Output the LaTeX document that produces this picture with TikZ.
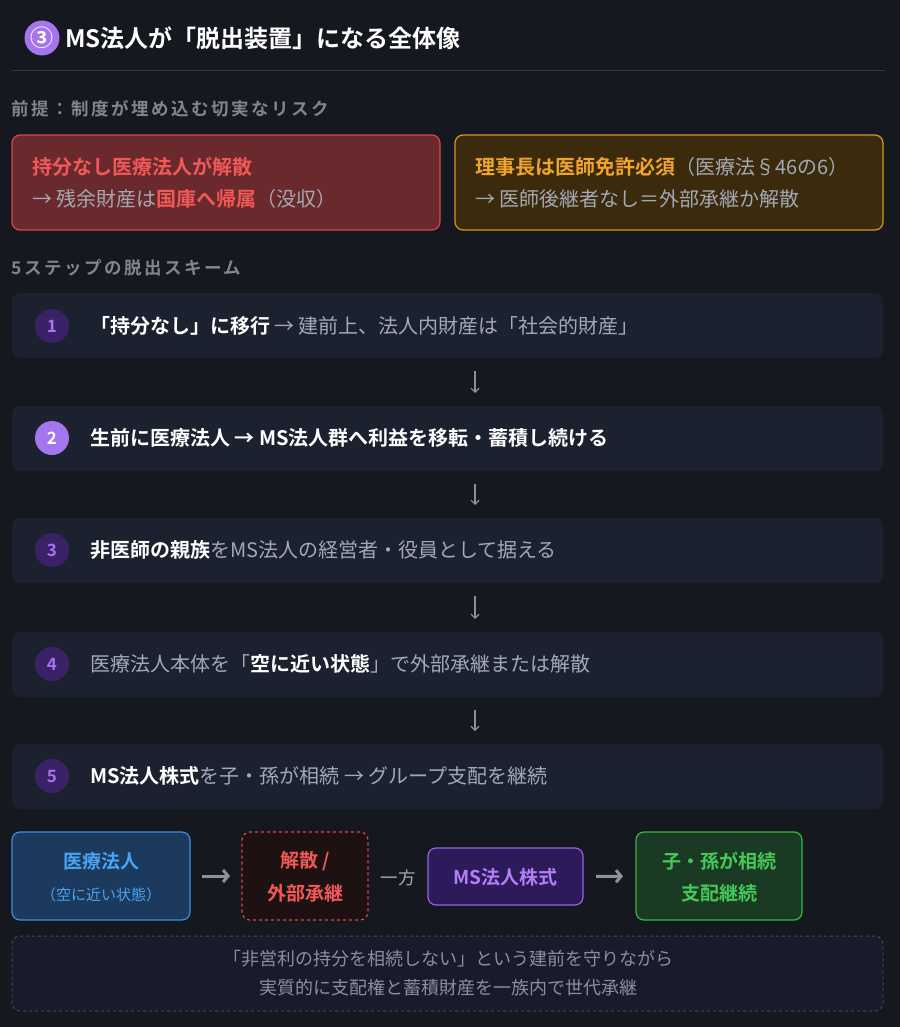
\documentclass[tikz,border=0pt]{standalone}
\usepackage{fontspec}
\setmainfont{Noto Sans CJK JP}[BoldFont={* Bold}]
\usetikzlibrary{arrows.meta}
\definecolor{bg}{HTML}{15181F}
\definecolor{sepline}{HTML}{343944}
\definecolor{hdrgray}{HTML}{80868F}
\definecolor{txtgray}{HTML}{A3A9B4}
\definecolor{redfill}{HTML}{6A2A2D}
\definecolor{redbord}{HTML}{D9474A}
\definecolor{redtxt}{HTML}{F25858}
\definecolor{goldfill}{HTML}{3B2A0C}
\definecolor{goldbord}{HTML}{D09A1E}
\definecolor{goldtxt}{HTML}{F0A528}
\definecolor{stepfill}{HTML}{1C2130}
\definecolor{lpurple}{HTML}{A575EE}
\definecolor{dpurple}{HTML}{3A2168}
\definecolor{numpurple}{HTML}{A872F2}
\definecolor{bluefill}{HTML}{1B3A5E}
\definecolor{bluebord}{HTML}{3D8FE0}
\definecolor{bluetxt}{HTML}{4BA3F2}
\definecolor{dredfill}{HTML}{1E1111}
\definecolor{pbfill}{HTML}{2C1A5A}
\definecolor{pbbord}{HTML}{9B60E6}
\definecolor{pbtxt}{HTML}{B27EF5}
\definecolor{gfill}{HTML}{1A3A24}
\definecolor{gbord}{HTML}{32B845}
\definecolor{gtxt}{HTML}{45C85A}
\definecolor{notefill}{HTML}{1A1A2D}
\definecolor{notebord}{HTML}{444955}
\definecolor{arrgray}{HTML}{8C929C}
\newcommand\myfs[1]{\fontsize{#1pt}{#1pt}\selectfont}
\newcommand\wb[1]{\textcolor{white}{\bfseries #1}}
\begin{document}
\begin{tikzpicture}[x=1pt,y=-1pt,
  every node/.style={inner sep=0pt,outer sep=0pt},
  riskbox/.style={rounded corners=8pt,line width=1.2pt,anchor=north west,minimum width=428pt,minimum height=95pt},
  stepbox/.style={rounded corners=8pt,fill=stepfill,anchor=north west,minimum width=871pt,minimum height=65pt},
  numdark/.style={circle,fill=dpurple,text=numpurple,minimum size=34pt,font=\myfs{17}\bfseries},
  numlight/.style={circle,fill=lpurple,text=white,minimum size=34pt,font=\myfs{17}\bfseries},
  steptxt/.style={anchor=west,text=txtgray,font=\myfs{20}},
  hdr/.style={anchor=west,text=hdrgray,font=\myfs{17.5}\bfseries\addfontfeatures{LetterSpace=14}},
  downarr/.style={draw=arrgray,line width=1.1pt,-{Straight Barb[length=4pt,width=8pt]},shorten <=13pt,shorten >=13pt},
  flowbox/.style={rounded corners=8pt,line width=1.2pt},
  flowarr/.style={draw=arrgray,line width=3pt,-{Straight Barb[length=5pt,width=12pt]},shorten <=12pt,shorten >=12pt}]
\useasboundingbox (0,0) rectangle (900,1027);
\fill[bg] (0,0) rectangle (900,1027);
% title
\node[circle,fill=lpurple,text=white,minimum size=35pt,font=\myfs{23}\bfseries] (tc) at (42,38) {③};
\node[anchor=west,text=white,font=\myfs{24}\bfseries] (title) at (65,38) {MS法人が「脱出装置」になる全体像};
\draw[sepline,line width=1pt] (12,71) -- (885,71);
% premise
\node[hdr] (h1) at (12,109) {前提：制度が埋め込む切実なリスク};
\node[riskbox,fill=redfill,draw=redbord] (rk1) at (12,135) {};
\node[anchor=west,text=redtxt,font=\myfs{20}\bfseries] (rk1a) at (32,167) {持分なし医療法人が解散};
\node[anchor=west,text=txtgray,font=\myfs{20}] (rk1b) at (32,199) {→ 残余財産は\textcolor{redtxt}{\bfseries 国庫へ帰属}（没収）};
\node[riskbox,fill=goldfill,draw=goldbord] (rk2) at (455,135) {};
\node[anchor=west,text=txtgray,font=\myfs{20}] (rk2a) at (475,167) {\textcolor{goldtxt}{\bfseries 理事長は医師免許必須}（医療法§46の6）};
\node[anchor=west,text=txtgray,font=\myfs{20}] (rk2b) at (475,199) {→ 医師後継者なし＝外部承継か解散};
% steps
\node[hdr] (h2) at (12,268) {5ステップの脱出スキーム};
\node[stepbox] (s1) at (12,293) {};
\node[stepbox] (s2) at (12,406) {};
\node[stepbox] (s3) at (12,518) {};
\node[stepbox] (s4) at (12,632) {};
\node[stepbox] (s5) at (12,744) {};
\node[numdark] (n1) at (52,326) {1};
\node[numlight] (n2) at (52,438) {2};
\node[numdark] (n3) at (52,550) {3};
\node[numdark] (n4) at (52,664) {4};
\node[numdark] (n5) at (52,776) {5};
\node[steptxt] (t1) at (90,326) {\wb{「持分なし」に移行} → 建前上、法人内財産は「社会的財産」};
\node[steptxt] (t2) at (90,438) {\wb{生前に医療法人 → MS法人群へ利益を移転・蓄積し続ける}};
\node[steptxt] (t3) at (90,550) {\wb{非医師の親族}をMS法人の経営者・役員として据える};
\node[steptxt] (t4) at (90,664) {医療法人本体を「\wb{空に近い状態}」で外部承継または解散};
\node[steptxt] (t5) at (90,776) {\wb{MS法人株式}を子・孫が相続 → グループ支配を継続};
\coordinate (ax) at (475,0);
\draw[downarr] (s1.south -| ax) -- (s2.north -| ax);
\draw[downarr] (s2.south -| ax) -- (s3.north -| ax);
\draw[downarr] (s3.south -| ax) -- (s4.north -| ax);
\draw[downarr] (s4.south -| ax) -- (s5.north -| ax);
% flow
\node[flowbox,fill=bluefill,draw=bluebord,minimum width=178pt,minimum height=88pt] (f1) at (101,876) {};
\node[text=bluetxt,font=\myfs{19}\bfseries] (f1a) at (101,861) {医療法人};
\node[text=bluetxt,font=\myfs{15}] (f1b) at (101,895) {（空に近い状態）};
\node[flowbox,fill=dredfill,draw=redbord,dashed,minimum width=126pt,minimum height=88pt] (f2) at (305,876) {};
\node[text=redtxt,font=\myfs{19}\bfseries] (f2a) at (305,861) {解散 /};
\node[text=redtxt,font=\myfs{19}\bfseries] (f2b) at (305,893) {外部承継};
\node[text=txtgray,font=\myfs{17.5}] (ip) at (398,878) {一方};
\node[flowbox,fill=pbfill,draw=pbbord,minimum width=155pt,minimum height=57pt] (f3) at (505.5,876.5) {};
\node[text=pbtxt,font=\myfs{19}\bfseries] (f3a) at (505.5,877) {MS法人株式};
\node[flowbox,fill=gfill,draw=gbord,minimum width=166pt,minimum height=88pt] (f4) at (719,876) {};
\node[text=gtxt,font=\myfs{19}\bfseries] (f4a) at (719,861) {子・孫が相続};
\node[text=gtxt,font=\myfs{19}\bfseries] (f4b) at (719,893) {支配継続};
\draw[flowarr] (f1) -- (f2);
\draw[flowarr,shorten <=13pt,shorten >=13pt] (f3) -- (f4);
% note
\node[rounded corners=8pt,dashed,draw=notebord,fill=notefill,line width=1pt,anchor=north west,minimum width=871pt,minimum height=75pt] (note) at (12,936) {};
\node[text=txtgray!85!black,font=\myfs{18}] (na) at (448,959) {「非営利の持分を相続しない」という建前を守りながら};
\node[text=txtgray!85!black,font=\myfs{18}] (nb) at (448,988) {実質的に支配権と蓄積財産を一族内で世代承継};
\end{tikzpicture}
\end{document}
